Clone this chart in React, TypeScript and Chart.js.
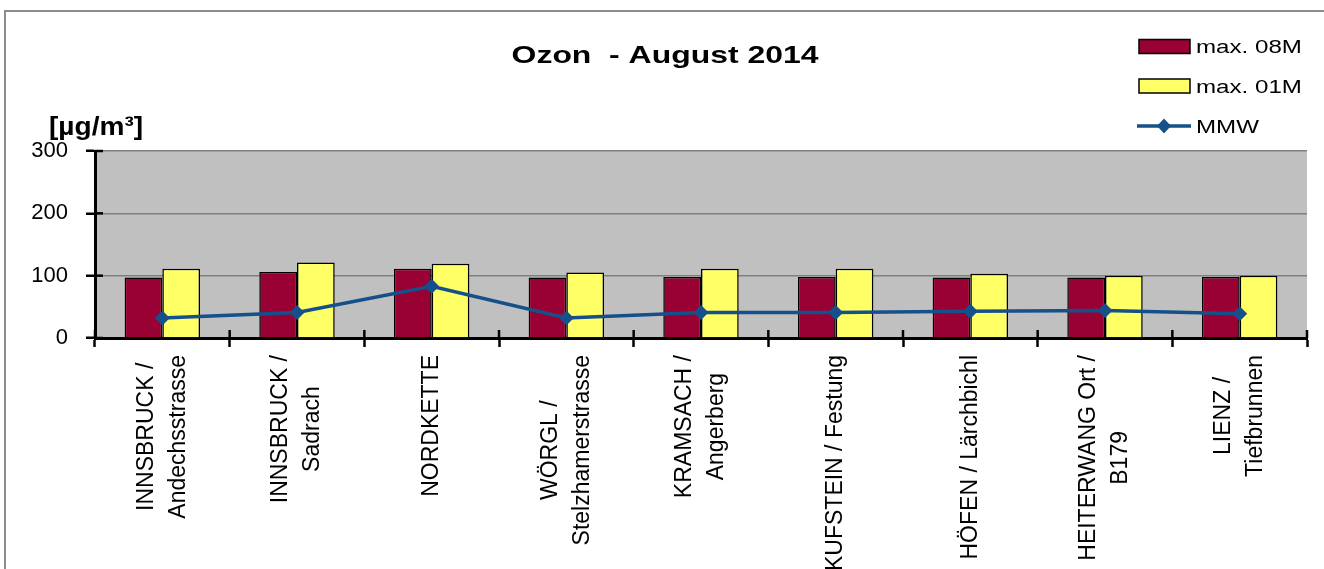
import React, { useEffect, useRef } from "react";
import { Chart, registerables } from "chart.js";

Chart.register(...registerables);

// ---------- data ----------
const categories: string[][] = [
  ["INNSBRUCK /", "Andechsstrasse"],
  ["INNSBRUCK /", "Sadrach"],
  ["NORDKETTE"],
  ["WÖRGL /", "Stelzhamerstrasse"],
  ["KRAMSACH /", "Angerberg"],
  ["KUFSTEIN / Festung"],
  ["HÖFEN / Lärchbichl"],
  ["HEITERWANG Ort /", "B179"],
  ["LIENZ /", "Tiefbrunnen"],
];
const max08M = [97, 106, 111, 97, 98, 98, 97, 97, 98];
const max01M = [111, 121, 119, 105, 111, 111, 103, 100, 100];
const mmw = [32, 41, 83, 32, 41, 41, 43, 44, 39];
const yTicks = [0, 100, 200, 300];
const seriesNames = ["max. 08M", "max. 01M", "MMW"];
const chartTitle = "Ozon  - August 2014";
const unitLabel = "[µg/m³]";

// ---------- styling ----------
const FONT = "'Liberation Sans', Arial, sans-serif";
const RED = "#990033";
const YELLOW = "#FFFF66";
const BLUE = "#15508A";
const W = 1324;
const H = 569;

function drawScaledText(
  ctx: CanvasRenderingContext2D,
  text: string,
  x: number,
  y: number,
  font: string,
  scaleX: number,
  align: "left" | "center" | "right"
) {
  ctx.save();
  ctx.font = font;
  ctx.textBaseline = "alphabetic";
  ctx.textAlign = "left";
  const w = ctx.measureText(text).width * scaleX;
  let left = x;
  if (align === "center") left = x - w / 2;
  else if (align === "right") left = x - w;
  ctx.translate(left, y);
  ctx.scale(scaleX, 1);
  ctx.fillStyle = "#000";
  ctx.fillText(text, 0, 0);
  ctx.restore();
}

const backgroundPlugin = {
  id: "bgFrame",
  beforeDraw(chart: any) {
    const { ctx, chartArea, width, height } = chart;
    ctx.save();
    ctx.fillStyle = "#ffffff";
    ctx.fillRect(0, 0, width, height);
    ctx.fillStyle = "#C0C0C0";
    ctx.fillRect(
      chartArea.left,
      chartArea.top,
      chartArea.right - chartArea.left,
      chartArea.bottom - chartArea.top
    );
    ctx.strokeStyle = "#8c8c8c";
    ctx.lineWidth = 2;
    ctx.beginPath();
    ctx.moveTo(5, height);
    ctx.lineTo(5, 11);
    ctx.lineTo(width, 11);
    ctx.stroke();
    ctx.restore();
  },
};

const decorPlugin = {
  id: "decor",
  afterDraw(chart: any) {
    const { ctx, chartArea } = chart;
    const xScale = chart.scales.x;
    const yScale = chart.scales.y;
    const labels: string[][] = chart.data.labels;

    // inner halves of the crossing tick marks
    ctx.save();
    ctx.strokeStyle = "#000";
    ctx.lineWidth = 2.5;
    for (let i = 0; i <= labels.length; i++) {
      const px = xScale.getPixelForValue(i - 0.5);
      ctx.beginPath();
      ctx.moveTo(px, chartArea.bottom);
      ctx.lineTo(px, chartArea.bottom - 8);
      ctx.stroke();
    }
    yTicks.forEach((v) => {
      const py = yScale.getPixelForValue(v);
      ctx.beginPath();
      ctx.moveTo(chartArea.left, py);
      ctx.lineTo(chartArea.left + 8, py);
      ctx.stroke();
    });
    ctx.restore();

    // category labels, rotated, lines centred
    ctx.save();
    ctx.font = `23px ${FONT}`;
    ctx.fillStyle = "#000";
    labels.forEach((lines, i) => {
      const x = xScale.getPixelForValue(i);
      const maxW = Math.max(...lines.map((l) => ctx.measureText(l).width));
      const yc = chartArea.bottom + 17 + maxW / 2;
      ctx.save();
      ctx.translate(x, yc);
      ctx.rotate(-Math.PI / 2);
      ctx.textAlign = "center";
      ctx.textBaseline = "middle";
      lines.forEach((l, j) => {
        ctx.fillText(l, 0, (j - (lines.length - 1) / 2) * 32);
      });
      ctx.restore();
    });
    ctx.restore();

    // title
    drawScaledText(ctx, chartTitle, 665, 63, `bold 24px ${FONT}`, 1.33, "center");
    // unit
    drawScaledText(ctx, unitLabel, 49, 135, `bold 26px ${FONT}`, 1.08, "left");

    // legend
    const ds = chart.data.datasets;
    const legendFont = `18px ${FONT}`;
    const rows = [
      { y: 46.5, base: 53.3 },
      { y: 86, base: 92.7 },
      { y: 126, base: 133 },
    ];
    ds.forEach((d: any, k: number) => {
      const r = rows[k];
      ctx.save();
      if (d.type === "line") {
        ctx.strokeStyle = d.borderColor;
        ctx.lineWidth = 3.5;
        ctx.beginPath();
        ctx.moveTo(1137, r.y);
        ctx.lineTo(1191, r.y);
        ctx.stroke();
        ctx.fillStyle = d.pointBackgroundColor;
        ctx.beginPath();
        ctx.moveTo(1164, r.y - 7.5);
        ctx.lineTo(1171, r.y);
        ctx.lineTo(1164, r.y + 7.5);
        ctx.lineTo(1157, r.y);
        ctx.closePath();
        ctx.fill();
      } else {
        ctx.fillStyle = d.backgroundColor;
        ctx.fillRect(1139, r.y - 7, 51, 14);
        ctx.strokeStyle = "#000";
        ctx.lineWidth = 1.5;
        ctx.strokeRect(1139, r.y - 7, 51, 14);
      }
      ctx.restore();
      drawScaledText(ctx, d.label, 1196, r.base, legendFont, 1.34, "left");
    });
  },
};

export default function App() {
  const canvasRef = useRef<HTMLCanvasElement | null>(null);

  useEffect(() => {
    const canvas = canvasRef.current;
    if (!canvas) return;
    const chart = new Chart(canvas, {
      type: "bar",
      data: {
        labels: categories as any,
        datasets: [
          {
            type: "bar",
            label: seriesNames[0],
            data: max08M,
            backgroundColor: RED,
            borderColor: "#000",
            borderWidth: 1.5,
            order: 1,
          },
          {
            type: "bar",
            label: seriesNames[1],
            data: max01M,
            backgroundColor: YELLOW,
            borderColor: "#000",
            borderWidth: 1.5,
            order: 1,
          },
          {
            type: "line",
            label: seriesNames[2],
            data: mmw,
            borderColor: BLUE,
            backgroundColor: BLUE,
            borderWidth: 3.5,
            pointStyle: "rectRot",
            pointRadius: 7.5,
            pointBackgroundColor: BLUE,
            pointBorderColor: BLUE,
            pointBorderWidth: 0,
            tension: 0,
            order: 0,
          } as any,
        ],
      },
      options: {
        responsive: false,
        animation: false,
        devicePixelRatio: 1,
        categoryPercentage: 0.56,
        barPercentage: 1,
        layout: { padding: { top: 151, left: 0, right: 17, bottom: 0 } },
        plugins: {
          legend: { display: false },
          title: { display: false },
          tooltip: { enabled: false },
        },
        scales: {
          x: {
            offset: true,
            ticks: { display: false },
            grid: {
              display: true,
              drawOnChartArea: false,
              offset: true,
              drawTicks: true,
              tickLength: 9,
              tickColor: "#000",
              tickWidth: 2.5,
            },
            border: { display: true, color: "#000", width: 3 },
            afterFit(scale: any) {
              scale.height = H - 338;
              scale.paddingLeft = 0;
              scale.paddingRight = 0;
              scale.paddingTop = 0;
              scale.paddingBottom = 0;
            },
          },
          y: {
            min: 0,
            max: 300,
            afterBuildTicks(scale: any) {
              scale.ticks = yTicks.map((v) => ({ value: v }));
            },
            ticks: {
              color: "#000",
              padding: 18,
              font: { family: FONT, size: 22 },
            },
            grid: {
              color: "#808080",
              lineWidth: 1.5,
              drawTicks: true,
              tickLength: 9,
              tickColor: "#000",
              tickWidth: 2.5,
            },
            border: { display: true, color: "#000", width: 3 },
            afterFit(scale: any) {
              scale.width = 95;
              scale.paddingLeft = 0;
              scale.paddingRight = 0;
              scale.paddingTop = 0;
              scale.paddingBottom = 0;
            },
          },
        },
      },
      plugins: [backgroundPlugin, decorPlugin],
    });
    return () => chart.destroy();
  }, []);

  return (
    <div style={{ width: W, height: H, overflow: "hidden", position: "relative" }}>
      <style>{`html,body{margin:0;padding:0;overflow:hidden;background:#fff}`}</style>
      <canvas ref={canvasRef} width={W} height={H} style={{ display: "block" }} />
    </div>
  );
}
